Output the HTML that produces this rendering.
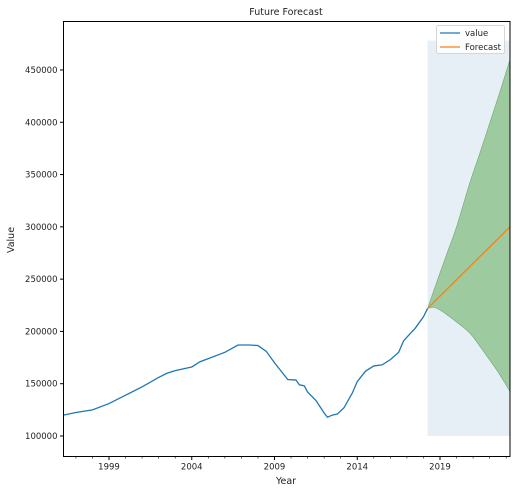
<!DOCTYPE html>
<html><head><meta charset="utf-8"><style>
body{margin:0;background:#fff;}
svg text{font-family:"DejaVu Sans","Liberation Sans",sans-serif;fill:#222;}
</style></head><body>
<svg width="516" height="494" viewBox="0 0 516 494">
<g id="plot"></g>
</svg>
<script>
const histYears=[1996.25,1997,1998,1999,2000,2001,2001.5,2002,2002.5,2003,2004,2004.5,2005,2006,2006.8,2007.5,2008,2008.5,2009,2009.5,2009.8,2010.3,2010.5,2010.8,2011,2011.5,2012,2012.2,2012.5,2012.8,2013.2,2013.7,2014,2014.5,2015,2015.5,2016,2016.5,2016.8,2017.2,2017.5,2018,2018.25];
const histValues=[120000,122500,125000,131000,139000,147000,151500,156000,160000,162500,166000,171000,174000,180000,187000,187000,186500,181000,170000,160000,154000,153500,149000,148000,142000,134000,122000,118000,120000,121000,127000,141000,152000,162000,167000,168000,173000,180000,191000,198000,203000,214000,222000];
const fcYears=[2018.25,2018.6,2019,2019.5,2020,2020.8,2021.4,2022,2022.6,2023.23];
const fcMean=[222000,227480,233750,241580,249410,261940,271330,280730,290130,300000];
const fcUpper=[222000,238000,256000,278000,300000,342000,370000,399000,428000,460000];
const fcLower=[222000,223000,220500,215000,209000,198500,186000,172700,159000,142400];
const yTicks=[100000,150000,200000,250000,300000,350000,400000,450000];
const xTicks=[1999,2004,2009,2014,2019];
const spanTop=478000,spanBottom=100000;

const L=63.5,R=510,T=21.5,B=456.5;
const X=y=>109+(y-1999)*16.55;
const Y=v=>436-(v-100000)*52.29/50000;
const NS="http://www.w3.org/2000/svg";
const g=document.getElementById('plot');
function mk(tag,attrs,parent){const e=document.createElementNS(NS,tag);for(const k in attrs)e.setAttribute(k,attrs[k]);(parent||g).appendChild(e);return e;}
function smooth(xs,ys){
  let d='M'+xs[0]+','+ys[0];
  for(let i=0;i<xs.length-1;i++){
    const x0=xs[Math.max(i-1,0)],y0=ys[Math.max(i-1,0)],x1=xs[i],y1=ys[i],x2=xs[i+1],y2=ys[i+1],x3=xs[Math.min(i+2,xs.length-1)],y3=ys[Math.min(i+2,xs.length-1)];
    d+=' C'+(x1+(x2-x0)/6)+','+(y1+(y2-y0)/6)+' '+(x2-(x3-x1)/6)+','+(y2-(y3-y1)/6)+' '+x2+','+y2;
  }
  return d;
}

let span=mk('rect',{x:X(fcYears[0]),y:Y(spanTop),width:R-X(fcYears[0]),height:Y(spanBottom)-Y(spanTop),fill:'#e6eef6'});


const fx=fcYears.map(X);
const up=smooth(fx,fcUpper.map(Y));
const lo=smooth(fx.slice().reverse(),fcLower.map(Y).reverse());
let band=mk('path',{d:up+' L'+lo.slice(1)+' Z',fill:'#9dcb9f',stroke:'#6aaa6e','stroke-width':0.6});


let hl=mk('polyline',{points:histYears.map((y,i)=>X(y)+','+Y(histValues[i])).join(' '),fill:'none',stroke:'#1f77b4','stroke-width':1.3});


let fl=mk('polyline',{points:fcYears.map((y,i)=>X(y)+','+Y(fcMean[i])).join(' '),fill:'none',stroke:'#ff7f0e','stroke-width':1.3});


let fr=mk('rect',{x:L,y:T,width:R-L,height:B-T,fill:'none',stroke:'#000','stroke-width':1});


yTicks.forEach(v=>{
  mk('line',{x1:L-3.5,x2:L,y1:Y(v),y2:Y(v),stroke:'#000'});
  let t=mk('text',{x:L-6,y:Y(v)+3,'text-anchor':'end','font-size':'8.5'});t.textContent=v;
  
  
});
for(let yr=1997;yr<=2023;yr++){
  const major=xTicks.includes(yr);
  mk('line',{x1:X(yr),x2:X(yr),y1:B,y2:B+(major?3.5:2),stroke:'#000','stroke-width':major?1:0.6});
}
xTicks.forEach(yr=>{
  let t=mk('text',{x:X(yr),y:B+13,'text-anchor':'middle','font-size':'8.5'});t.textContent=yr;
  
  
});
let tt=mk('text',{x:286,y:15,'text-anchor':'middle','font-size':'9.5'});tt.textContent='Future Forecast';


let xt=mk('text',{x:286,y:484,'text-anchor':'middle','font-size':'9.5'});xt.textContent='Year';


let yt=mk('text',{x:14,y:240,'text-anchor':'middle','font-size':'9.5',transform:'rotate(-90 14 240)'});yt.textContent='Value';


let lg=mk('g',{});


mk('rect',{x:436.5,y:25.5,width:68,height:28,fill:'#fff','fill-opacity':0.85,stroke:'#ccc','stroke-width':0.8,rx:2},lg);
mk('line',{x1:440,x2:460,y1:33,y2:33,stroke:'#1f77b4','stroke-width':1.3},lg);
mk('line',{x1:440,x2:460,y1:47,y2:47,stroke:'#ff7f0e','stroke-width':1.3},lg);
let l1=mk('text',{x:465,y:36,'font-size':'8.5'},lg);l1.textContent='value';


let l2=mk('text',{x:465,y:50,'font-size':'8.5'},lg);l2.textContent='Forecast';


</script>
</body></html>
